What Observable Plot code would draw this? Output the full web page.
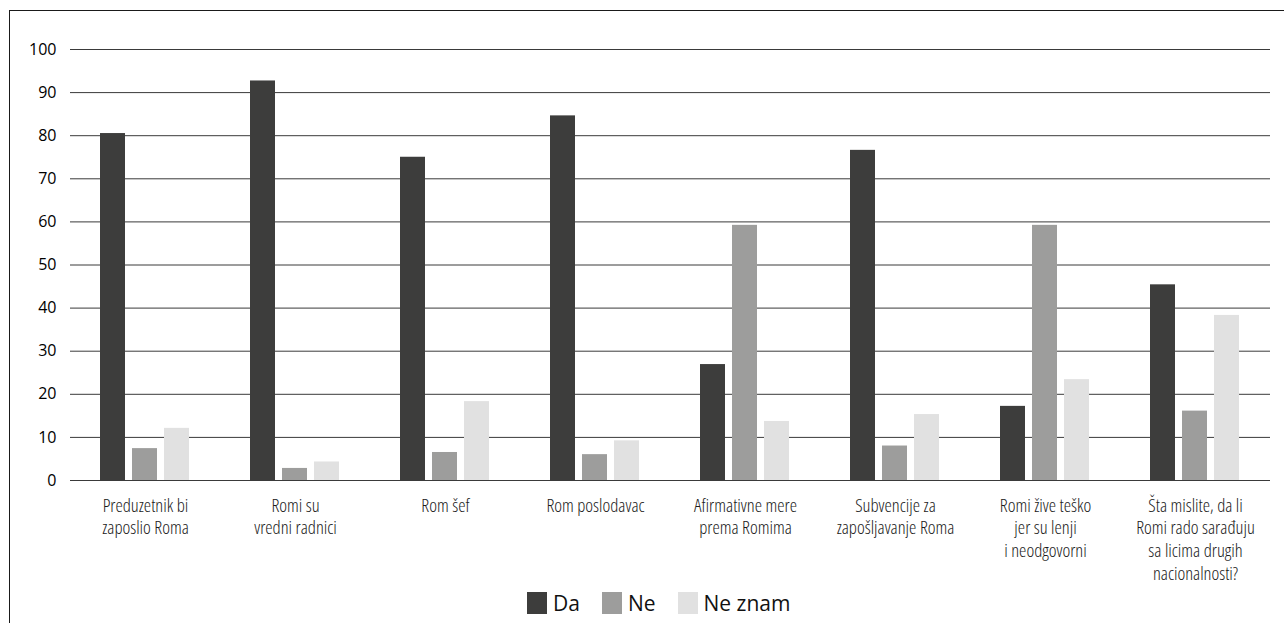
<!DOCTYPE html>
<html>
<head>
<meta charset="utf-8">
<script src="https://cdn.jsdelivr.net/npm/d3@7"></script>
<script src="https://cdn.jsdelivr.net/npm/@observablehq/plot@0.6"></script>
<style>
  html, body { margin: 0; padding: 0; background: #fff; }
  body { width: 1284px; height: 623px; position: relative; overflow: hidden; font-family: "Open Sans", sans-serif; }
  #frame { position: absolute; left: 9px; top: 10px; right: -2px; bottom: -2px; border-top: 1px solid #1a1a1a; border-left: 1px solid #1a1a1a; pointer-events: none; }
  #chart { position: absolute; left: 0; top: 0; }
  #chart g[aria-label="fx-axis tick label"] { font-stretch: 80%; font-weight: 300; font-family: "Open Sans", "DejaVu Sans Condensed", sans-serif; }
  #legend { position: absolute; left: 527px; top: 589px; display: flex; align-items: center; font-size: 21px; color: #111; }
  #legend .item { display: flex; align-items: center; margin-right: 22px; }
  #legend .sw { width: 20px; height: 22px; margin-right: 6px; }
</style>
</head>
<body>
<div id="chart"></div>
<div id="legend"></div>
<div id="frame"></div>
<script>
// Survey questions (category labels, line-broken as drawn under the axis)
const categories = [
  "Preduzetnik bi\nzaposlio Roma",
  "Romi su\nvredni radnici",
  "Rom šef",
  "Rom poslodavac",
  "Afirmativne mere\nprema Romima",
  "Subvencije za\nzapošljavanje Roma",
  "Romi žive teško\njer su lenji\ni neodgovorni",
  "Šta mislite, da li\nRomi rado sarađuju\nsa licima drugih\nnacionalnosti?"
];

// Answer options
const seriesNames = ["Da", "Ne", "Ne znam"];

// Percent of respondents per answer
const da     = [80.5, 92.7, 75.0, 84.6, 26.9, 76.6, 17.2, 45.4];
const ne     = [ 7.4,  2.8,  6.5,  6.0, 59.2,  8.0, 59.2, 16.1];
const neZnam = [12.1,  4.3, 18.3,  9.2, 13.7, 15.3, 23.4, 38.3];

const yTicks = [0, 10, 20, 30, 40, 50, 60, 70, 80, 90, 100];
const colors = ["#3d3d3c", "#9d9d9c", "#e1e1e1"];

const seriesValues = [da, ne, neZnam];
const table = categories.flatMap((c, i) =>
  seriesNames.map((s, j) => ({category: c, series: s, value: seriesValues[j][i]}))
);

const chart = Plot.plot({
  width: 1284,
  height: 623,
  marginLeft: 67,
  marginRight: 12,
  marginTop: 49,
  marginBottom: 143,
  style: {fontFamily: "'Open Sans', sans-serif", color: "#111", background: "transparent"},
  y: {domain: [0, 100]},
  fx: {domain: categories, padding: 0, label: null},
  x: {domain: seriesNames, paddingInner: 0.21, paddingOuter: 0.885, axis: null},
  color: {domain: seriesNames, range: colors},
  marks: [
    Plot.gridY(yTicks, {stroke: "#3a3a3a", strokeOpacity: 1, strokeWidth: 1}),
    Plot.barY(table, {fx: "category", x: "series", y: "value", fill: "series"}),
    Plot.axisY(yTicks, {tickSize: 0, tickPadding: 14, fontSize: 16, label: null, fill: "#000"}),
    Plot.axisFx({anchor: "bottom", tickSize: 0, tickPadding: 15, fontSize: 18.5, lineHeight: 1.23, label: null, tickFormat: d => d, fill: "#1a1a1a"})
  ]
});
document.getElementById("chart").append(chart);

// Legend
const legend = document.getElementById("legend");
seriesNames.forEach((s, i) => {
  const item = document.createElement("div");
  item.className = "item";
  const sw = document.createElement("span");
  sw.className = "sw";
  sw.style.background = colors[i];
  const label = document.createElement("span");
  label.textContent = s;
  item.append(sw, label);
  legend.append(item);
});
</script>
</body>
</html>
